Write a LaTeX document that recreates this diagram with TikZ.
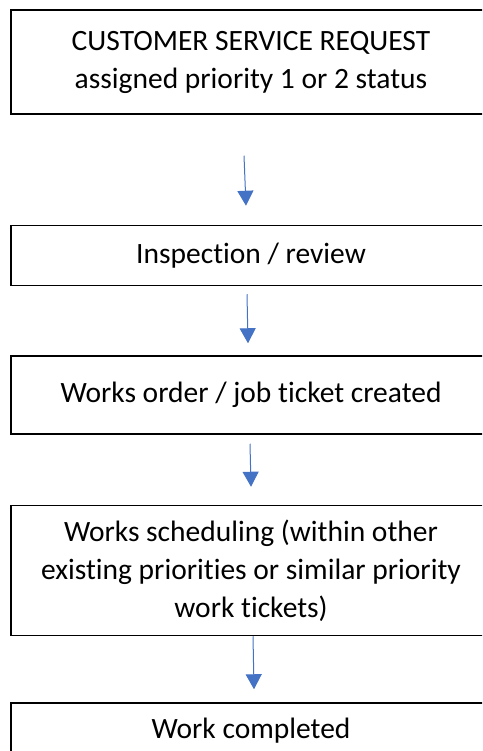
\documentclass[tikz,border=0pt]{standalone}
\usepackage{fontspec}
\setmainfont{Carlito}[Ligatures=NoCommon]
\usepackage{tikz}
\usetikzlibrary{arrows.meta,positioning}

\definecolor{flowblue}{HTML}{4472C4}

\begin{document}
\begin{tikzpicture}[
        x=1pt, y=-1pt,
        every node/.style={align=center, font=\fontsize{29.5}{38}\selectfont},
        stage/.style={draw, line width=1.5pt, minimum width=480pt, inner sep=4pt},
        flow/.style={draw=flowblue, line width=1pt, -{Triangle[width=16pt,length=15pt]}}
    ]
    \useasboundingbox (0,0) rectangle (482,751);
    \clip (0,0) rectangle (482,751);

    % Nodes
    \node[stage, minimum height=104pt] (request) at (251,62)
        {CUSTOMER SERVICE REQUEST\\assigned priority 1 or 2 status};
    \node[stage, minimum height=60pt, below=110pt of request] (inspect)
        {Inspection / review};
    \node[stage, minimum height=78pt, below=69pt of inspect] (order)
        {Works order / job ticket created};
    \node[stage, minimum height=130pt, below=70pt of order] (schedule)
        {Works scheduling (within other\\existing priorities or similar priority\\work tickets)};
    \node[stage, minimum height=56pt, below=66pt of schedule] (done)
        {Work completed};

    % Arrows
    \draw[flow] ([shift={(-7pt,-41pt)}]request.south) -- ([shift={(-5pt,19pt)}]inspect.north);
    \draw[flow] ([shift={(-4pt,-8pt)}]inspect.south) -- ([shift={(-3pt,12pt)}]order.north);
    \draw[flow] ([shift={(-1pt,-9pt)}]order.south) -- ([shift={(0pt,18pt)}]schedule.north);
    \draw[flow] ([shift={(2pt,0pt)}]schedule.south) -- ([shift={(3pt,13pt)}]done.north);
\end{tikzpicture}
\end{document}
